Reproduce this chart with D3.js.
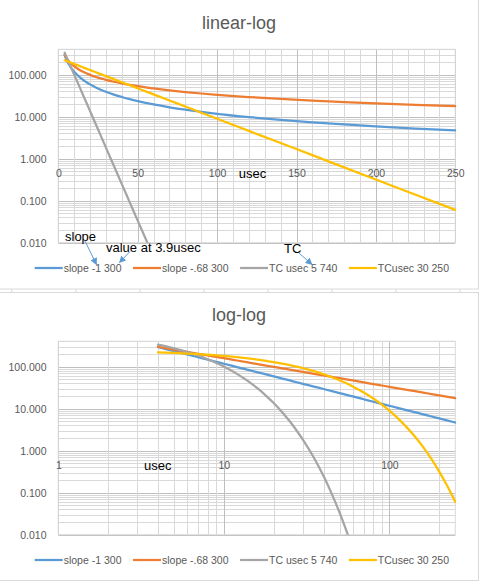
<!DOCTYPE html>
<html>
<head>
<meta charset="utf-8">
<script src="https://cdn.jsdelivr.net/npm/d3@7"></script>
<style>
  html, body { margin: 0; padding: 0; background: #fff; }
  svg { display: block; font-family: "Liberation Sans", Arial, sans-serif; }
</style>
</head>
<body>
<svg id="chart" width="479" height="581"></svg>
<script>
// ---------------- data ----------------
const xValues = [4, 5, 6, 7, 8, 9, 10, 12, 14, 16, 18, 20, 22.5, 25, 27.5, 30, 35, 40, 45, 50, 55, 60, 70, 80, 90, 100, 120, 140, 160, 180, 200, 225, 250];

const seriesNames = ["slope -1 300", "slope -.68 300", "TC usec 5 740", "TCusec 30 250"];
const seriesColors = ["#5B9BD5", "#ED7D31", "#A5A5A5", "#FFC000"];

const slopeMinus1 = [292.5, 234, 195, 167, 146, 130, 117, 97.5, 83.6, 73.1, 65, 58.5, 52.0, 46.8, 42.5, 39, 33.4, 29.3, 26, 23.4, 21.3, 19.5, 16.7, 14.6, 13, 11.7, 9.75, 8.36, 7.31, 6.5, 5.85, 5.2, 4.68];
const slopeMinus068 = [294.9, 253.4, 223.8, 201.5, 184.0, 169.9, 158.2, 139.7, 125.8, 114.9, 106.0, 98.7, 91.1, 84.8, 79.5, 74.9, 67.5, 61.6, 56.9, 52.9, 49.6, 46.8, 42.1, 38.5, 35.5, 33.0, 29.2, 26.3, 24.0, 22.2, 20.6, 19.0, 17.7];
const tc5 = [332.5, 272.2, 222.9, 182.5, 149.4, 122.3, 100.1, 67.1, 45.0, 30.2, 20.2, 13.6, 8.22, 4.99, 3.02, 1.83, 0.675, 0.248, 0.0913, 0.0336, 0.0124, 0.00455, null, null, null, null, null, null, null, null, null, null, null];
const tc30 = [218.8, 211.6, 204.7, 198.0, 191.5, 185.2, 179.1, 167.6, 156.8, 146.7, 137.2, 128.4, 118.1, 108.7, 99.9, 92.0, 77.9, 65.9, 55.8, 47.2, 40.0, 33.8, 24.2, 17.4, 12.4, 8.92, 4.58, 2.35, 1.21, 0.620, 0.318, 0.138, 0.0603];
const seriesValues = [slopeMinus1, slopeMinus068, tc5, tc30];

const yTickValues = [0.01, 0.1, 1, 10, 100];
const yTickLabels = ["0.010", "0.100", "1.000", "10.000", "100.000"];
const yDomain = [0.01, 400];
const xLinTicks = [0, 50, 100, 150, 200, 250];
const xLinDomain = [0, 250];
const xLogTicks = [1, 10, 100];
const xLogDomain = [1, 250];

const chartTitles = ["linear-log", "log-log"];
const xAxisTitle = "usec";
const annotations = [
  { text: "slope", tx: 65, ty: 236, from: [85, 241], to: [96.5, 264.5] },
  { text: "value at 3.9usec", tx: 106, ty: 247, from: [130, 251.5], to: [119.5, 262.5] },
  { text: "TC", tx: 284, ty: 248, from: [299, 253], to: [312, 264.5] }
];

// ---------------- drawing ----------------
const svg = d3.select("#chart");
const W = 479;
const gridMinor = "#D9D9D9", gridMajor = "#BFBFBF", textGrey = "#595959";

svg.append("defs").append("marker")
  .attr("id", "arrow").attr("viewBox", "0 0 10 10")
  .attr("refX", 9).attr("refY", 5)
  .attr("markerWidth", 7).attr("markerHeight", 7)
  .attr("markerUnits", "userSpaceOnUse")
  .attr("orient", "auto")
  .append("path").attr("d", "M0,0 L10,5 L0,10 Z").attr("fill", "#5B9BD5");

// spreadsheet frame / cell lines
svg.append("line").attr("x1", 0).attr("x2", W).attr("y1", 0.5).attr("y2", 0.5).attr("stroke", gridMinor);
[11.7, 76, 140, 204, 268, 332, 396, 460].forEach(x => {
  svg.append("line").attr("x1", x).attr("x2", x).attr("y1", 289).attr("y2", 292).attr("stroke", gridMinor);
});

function drawChart(idx, offsetY, xType) {
  const g = svg.append("g").attr("transform", `translate(0,${offsetY})`);
  // chart border
  g.append("rect").attr("x", -1).attr("y", idx === 0 ? -1 : 0.5).attr("width", 479.5)
    .attr("height", idx === 0 ? 290 : 288).attr("fill", "#fff").attr("stroke", gridMinor);

  const left = 58.3, right = 455.3, top = 49.3, bottom = 242.7;
  const x = xType === "lin"
    ? d3.scaleLinear().domain(xLinDomain).range([left, right])
    : d3.scaleLog().domain(xLogDomain).range([left, right]);
  const y = d3.scaleLog().domain(yDomain).range([bottom, top]);

  // horizontal gridlines
  const yMinor = [];
  for (let d = 0.01; d <= 100; d *= 10) {
    for (let m = 2; m <= 9; m++) { const v = +(d * m).toPrecision(3); if (v <= 400) yMinor.push(v); }
  }
  g.append("g").selectAll("line").data(yMinor).join("line")
    .attr("x1", left).attr("x2", right)
    .attr("y1", d => Math.round(y(d)) + 0.5).attr("y2", d => Math.round(y(d)) + 0.5)
    .attr("stroke", gridMinor).attr("stroke-width", 1);
  g.append("g").selectAll("line").data(yTickValues).join("line")
    .attr("x1", left).attr("x2", right)
    .attr("y1", d => Math.round(y(d)) + 0.5).attr("y2", d => Math.round(y(d)) + 0.5)
    .attr("stroke", gridMajor).attr("stroke-width", 1);

  // vertical gridlines
  let xMinor, xMajor;
  if (xType === "lin") {
    xMinor = d3.range(10, 251, 10).filter(v => v % 50 !== 0);
    xMajor = xLinTicks;
  } else {
    xMinor = [];
    for (let d = 1; d <= 100; d *= 10) for (let m = 2; m <= 9; m++) if (d * m <= 250) xMinor.push(d * m);
    xMajor = xLogTicks;
  }
  g.append("g").selectAll("line").data(xMinor).join("line")
    .attr("x1", d => Math.round(x(d)) + 0.5).attr("x2", d => Math.round(x(d)) + 0.5)
    .attr("y1", top).attr("y2", bottom).attr("stroke", gridMinor);
  g.append("g").selectAll("line").data(xMajor).join("line")
    .attr("x1", d => Math.round(x(d)) + 0.5).attr("x2", d => Math.round(x(d)) + 0.5)
    .attr("y1", top).attr("y2", bottom).attr("stroke", gridMajor);

  // plot area border
  g.append("rect").attr("x", left).attr("y", top).attr("width", right - left).attr("height", bottom - top)
    .attr("fill", "none").attr("stroke", gridMinor);

  // y axis labels
  const yAxis = d3.axisLeft(y).tickValues(yTickValues).tickSize(0).tickPadding(0)
    .tickFormat((d, i) => yTickLabels[i]);
  const ya = g.append("g").attr("transform", "translate(46.5,0)").call(yAxis);
  ya.select(".domain").remove();
  ya.selectAll("text").attr("fill", textGrey).attr("font-size", "10.5px")
    .attr("font-family", "'Liberation Sans', Arial, sans-serif").attr("dy", "0.35em");

  // x axis labels (crossing at y = 1)
  const xAxis = d3.axisBottom(x).tickValues(xType === "lin" ? xLinTicks : xLogTicks)
    .tickSize(0).tickPadding(0).tickFormat(d3.format("d"));
  const xa = g.append("g").attr("transform", `translate(0,${y(1) + 15})`).call(xAxis);
  xa.select(".domain").remove();
  xa.selectAll("text").attr("fill", textGrey).attr("font-size", "10.5px")
    .attr("font-family", "'Liberation Sans', Arial, sans-serif").attr("dy", "0.35em").attr("y", 0);

  // axis title "usec"
  g.append("text").attr("x", xType === "lin" ? 252.5 : 157.7).attr("y", y(1) + 15).attr("dy", "0.35em")
    .attr("text-anchor", "middle").attr("font-size", "13px").attr("fill", "#000").text(xAxisTitle);

  // series
  const clipId = "clip" + idx;
  g.append("clipPath").attr("id", clipId).append("rect")
    .attr("x", left).attr("y", top - 3).attr("width", right - left + 1).attr("height", bottom - top + 3);
  const line = d3.line()
    .defined((d, i, arr) => d[1] != null)
    .x(d => x(d[0])).y(d => y(d[1]))
    .curve(d3.curveMonotoneX);
  const sg = g.append("g").attr("clip-path", `url(#${clipId})`);
  seriesValues.forEach((vals, s) => {
    const pts = xValues.map((xv, i) => [xv, vals[i]]);
    sg.append("path").datum(pts).attr("d", line)
      .attr("fill", "none").attr("stroke", seriesColors[s]).attr("stroke-width", 2.25)
      .attr("stroke-linejoin", "round").attr("stroke-linecap", "round");
  });

  // title
  g.append("text").attr("x", 239).attr("y", 23).attr("dy", "0.35em").attr("text-anchor", "middle")
    .attr("font-size", "18px").attr("fill", textGrey).text(chartTitles[idx]);

  // legend
  let lx = 34.7;
  const ly = 268;
  seriesNames.forEach((name, s) => {
    g.append("line").attr("x1", lx).attr("x2", lx + 28).attr("y1", ly).attr("y2", ly)
      .attr("stroke", seriesColors[s]).attr("stroke-width", 2.25);
    const t = g.append("text").attr("x", lx + 29).attr("y", ly).attr("dy", "0.35em")
      .attr("font-size", "10.5px").attr("fill", textGrey).text(name);
    lx += 29 + t.node().getComputedTextLength() + 11.5;
  });

  // annotations (top chart only)
  if (idx === 0) {
    annotations.forEach(a => {
      g.append("line").attr("x1", a.from[0]).attr("y1", a.from[1]).attr("x2", a.to[0]).attr("y2", a.to[1])
        .attr("stroke", "#5B9BD5").attr("stroke-width", 1).attr("marker-end", "url(#arrow)");
      g.append("text").attr("x", a.tx).attr("y", a.ty).attr("dy", "0.35em")
        .attr("font-size", "13px").attr("fill", "#000").text(a.text);
    });
  }
}

drawChart(0, 0, "lin");
drawChart(1, 292, "log");
</script>
</body>
</html>
